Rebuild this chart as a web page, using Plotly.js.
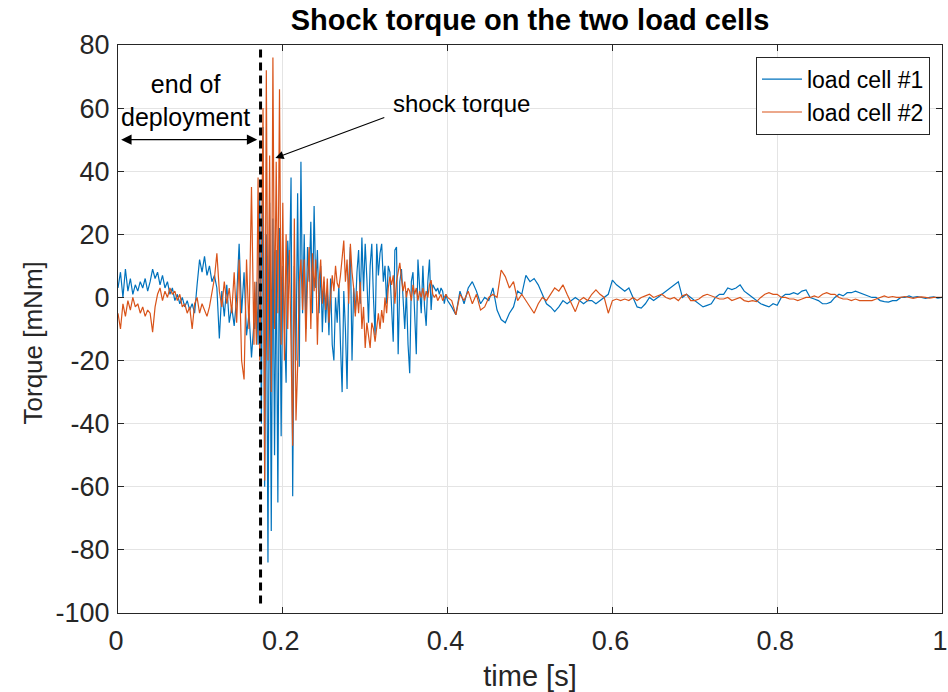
<!DOCTYPE html>
<html><head><meta charset="utf-8">
<script src="https://cdn.plot.ly/plotly-3.0.1.min.js"></script>
<style>html,body{margin:0;padding:0;background:#fff}#chart{width:948px;height:692px}</style>
</head><body><div id="chart"></div>
<script>
// ---------- data ----------
const titleText = 'Shock torque on the two load cells';
const xTitleText = 'time [s]';
const yTitleText = 'Torque [mNm]';
const seriesNames = ['load cell #1', 'load cell #2'];
const xTickVals = [0, 0.2, 0.4, 0.6, 0.8, 1];
const xTickText = ['0', '0.2', '0.4', '0.6', '0.8', '1'];
const yTickVals = [-100, -80, -60, -40, -20, 0, 20, 40, 60, 80];
const yTickText = ['-100', '-80', '-60', '-40', '-20', '0', '20', '40', '60', '80'];
const deployEnd = 0.173;   // end of deployment [s]

// sampling grids of the three record segments: [start time, step, count]
const seg1Grid = [0.000, 0.003, 56];
const seg2Grid = [0.166, 0.002, 117];
const seg3Grid = [0.400, 0.005, 121];

// load cell #1 (mNm)
const cell1Seg1 = [3, 8, 0, 9, 2, 6, 1, 4, 2, 5,
  3, 6, 2, 5, 9, 6, 8, 4, 7, 3,
  5, 1, 3, -1, 1, -2, 0, -3, -1, -4,
  -2, -5, 4, 12, 8, 13, 7, 10, 5, 7,
  3, -13, 2, -6, 4, -8, -3, -9, 0, 17,
  -5, 8, -12, -5, -19, -8];
const cell1Seg2 = [-10, 5, -15, 31, -40, 54, -60, 20, -84, 30,
  -74, 25, -50, 15, -65, 22, -44, 10, -10, -27,
  18, 5, 38, -63, 10, -20, 33, -22, 43, -5,
  20, -10, 16, 5, 24, -5, 29, 3, 15, -5,
  10, -11, 5, -8, 2, -12, 6, -15, -20, 0,
  -8, 4, -15, -30, 2, -10, -29, 5, 16, -20,
  3, -5, 8, 15, -2, 19, 2, 17, 6, -8,
  10, 17, 0, -12, 17, 7, 14, 17, 5, 10,
  -2, 10, 8, -3, -14, 15, 16, -18, 5, 9,
  0, -10, 2, -15, -24, 5, 8, -5, -18, 12,
  3, -5, 10, -3, -9, 5, 12, -4, 4, 3,
  2, 3, 1, 3, 2, -2, 1];
const cell1Seg3 = [-1, -3, -5.5, 2, -2, 3, 5, 2, -2, 0,
  -1, 3, -4, -7, -8, -5, -3, 2, 1, 7,
  5, 6, 4, 1, -2, -3, -4.5, -3, -1, -2,
  -1, 0, -1, -2, -1, -1, -2, -1, 0, 1,
  5.5, 4, 3, 2, 3, 0, -3, -3.4, -2, 0,
  -1, 0, 1, 2, 3, 4, 5, 0, 1, 0,
  -1, -2, -3, -2.5, -2, 0, 1, 1, 3, 2.5,
  3, 4, 2, 1, 0, -1, -2, -2.5, -3, -2,
  -2.5, 0, 1, 1, 1.5, 1, 2, 2.4, 0, -0.5,
  -1, -2, -2, -1.5, 0, 1, 0.5, 1.5, 1.5, 2,
  1.5, 1, 0.5, 0, 0, -1, -1.3, -1.5, -1, -1,
  0, 0, 0.5, 0, 0.3, 0, -0.3, 0, 0.2, -0.2,
  0];

// load cell #2 (mNm)
const cell2Seg1 = [-5, -10, -2, -6, -1, -4, 0, -3, -2, -5,
  -3, -6, -4, -5, -11, -3, 1, 3, -1, 2,
  0, 3, 1, 2, -1, 1, -3, -2, -5, -3,
  -10, -2, 0, -5, -2, -4, -6, -3, 1, 6,
  14, 2, -3, 5, -2, 3, -5, 8, -8, 12,
  -20, -26, 12, -10, 35, -15];
const cell2Seg2 = [5, -15, 38, -20, 10, 60, -58, 72, -20, 45,
  -30, 76, -10, 43, -5, 66, -15, 30, -20, 20,
  -10, 15, -15, -47, 25, -39, -22, 5, 12, -4,
  12, -14, 5, 16, -10, 14, 2, 12, -15, 5,
  12, -2, 6.6, -4, 6, -8, 0, 7, 2, 10,
  4.5, 3, 7, 14, 18, 5, 12, -2, 17, 8,
  3, -6, 2, -5, 5, -10, -3, -16, -8, -12,
  -16, -8, -10, -14, -9, -5, -10, -4, -8, 0,
  -5, 3, 6.6, 4, 7, -2, 5, 8, 11, 6,
  2, 5, 0, 3, 2, -1, 4, 1, 3, -1,
  2, 0, 3, -1, 2, 0, 4, 5.5, 1, 0,
  1, -1, 0, 1, -1, 0, 1];
const cell2Seg3 = [0, -1, -5.5, 1, -1, 2, -2, 1, -4, -3,
  0, 1, 0, 8.7, 6.6, 3, 5, -1, 1, -1,
  -3, -5, -2, 0, -1, 1, 3, 2, 4, 1,
  -2, -4.5, -1, 0, -1, 1, 2.4, 1, 0, -5,
  -1, -0.5, -1, -0.5, -1, 0, -1, 0, 0.5, 1,
  0, 0.5, 1, 0, -0.5, 0, -1, 0.5, 1, -1,
  -1, -0.5, 0.5, 1, 0.5, 0, -0.5, -0.5, 0, -1,
  -0.5, 0, -1, -1.3, -1, -1.3, 0, 1, 1.5, 1,
  1, 0, 0, -0.5, -0.5, -1, -0.5, 0, 0, 0.5,
  0, 1, 1.5, 1, 1, 0, -0.5, -0.5, -1, -0.5,
  -1, -1, -0.8, -1, -0.5, 0, 0.5, 0, 0.3, 0,
  0, 0.3, 0, -0.3, 0, 0.2, 0, -0.2, 0, 0,
  0];

// ---------- build the time axis of each segment ----------
function segTimes(grid, vals) {
  const t = [];
  for (let i = 0; i < vals.length; i++) t.push(+(grid[0] + i * grid[1]).toFixed(4));
  return t;
}
function join(vals1, vals2, vals3) {
  return {
    x: segTimes(seg1Grid, vals1).concat(segTimes(seg2Grid, vals2), segTimes(seg3Grid, vals3)),
    y: vals1.concat(vals2, vals3)
  };
}
const c1 = join(cell1Seg1, cell1Seg2, cell1Seg3);
const c2 = join(cell2Seg1, cell2Seg2, cell2Seg3);

const FONT = '"Liberation Sans", Arial, Helvetica, sans-serif';
const INK = '#262626';

const traces = [
  {x: c1.x, y: c1.y, type: 'scatter', mode: 'lines', name: seriesNames[0],
   line: {color: '#0072BD', width: 1.2}},
  {x: c2.x, y: c2.y, type: 'scatter', mode: 'lines', name: seriesNames[1],
   line: {color: '#D95319', width: 1.2}}
];

const axisCommon = {
  ticks: 'inside', ticklen: 6, tickcolor: INK, tickwidth: 1,
  showline: true, linecolor: INK, linewidth: 1, mirror: 'ticks',
  showgrid: true, gridcolor: '#e4e4e4', gridwidth: 1, zeroline: false,
  tickfont: {size: 27, color: INK}, tickmode: 'array'
};

const layout = {
  width: 948, height: 692,
  margin: {l: 118, r: 6, t: 45, b: 79, pad: 0},
  paper_bgcolor: '#ffffff', plot_bgcolor: '#ffffff',
  font: {family: FONT, color: INK},
  title: {text: '<b>' + titleText + '</b>', font: {size: 29, color: '#000', family: FONT},
          x: 0.5, xref: 'paper', xanchor: 'center', y: 1 - 20 / 692, yref: 'container', yanchor: 'middle'},
  xaxis: Object.assign({}, axisCommon, {
    range: [0, 1], tickvals: xTickVals, ticktext: xTickText, ticklabelstandoff: 4,
    ticklabelshift: -2, ticklabeloverflow: 'allow',
    title: {text: xTitleText, font: {size: 29, color: INK}, standoff: 14}
  }),
  yaxis: Object.assign({}, axisCommon, {
    range: [-100, 80], tickvals: yTickVals, ticktext: yTickText, ticklabelstandoff: 2
  }),
  showlegend: true,
  legend: {x: 0.9854, y: 0.9795, xanchor: 'right', yanchor: 'top', bgcolor: '#ffffff',
           bordercolor: INK, borderwidth: 1, font: {size: 23, color: '#000'}, itemwidth: 40},
  shapes: [
    {type: 'line', xref: 'x', yref: 'y', x0: deployEnd, x1: deployEnd, y0: -97, y1: 80,
     line: {color: '#000', width: 3, dash: '8px,5px'}}
  ],
  annotations: [
    {text: yTitleText, textangle: -90, xref: 'paper', yref: 'paper',
     x: -0.1032, y: 0.4762, xanchor: 'center', yanchor: 'middle', showarrow: false,
     font: {size: 26, color: INK}},
    {text: 'end of<br>deployment', x: 0.082, y: 62.4, xref: 'x', yref: 'y', showarrow: false,
     font: {size: 25, color: '#000'}},
    {text: '', x: deployEnd - 0.004, y: 50, ax: 0.002, ay: 50, xref: 'x', yref: 'y', axref: 'x', ayref: 'y',
     showarrow: true, arrowside: 'end+start', arrowhead: 2, arrowsize: 1.6, arrowwidth: 1.3, arrowcolor: '#000'},
    {text: 'shock torque', x: 0.417, y: 61.5, xref: 'x', yref: 'y', showarrow: false,
     font: {size: 24, color: '#000'}},
    {text: '', x: 0.191, y: 44.2, ax: 0.325, ay: 57.2, xref: 'x', yref: 'y', axref: 'x', ayref: 'y',
     showarrow: true, arrowhead: 2, arrowsize: 1.5, arrowwidth: 1.1, arrowcolor: '#000'}
  ]
};

Plotly.newPlot('chart', traces, layout, {displayModeBar: false, staticPlot: true});
</script></body></html>
